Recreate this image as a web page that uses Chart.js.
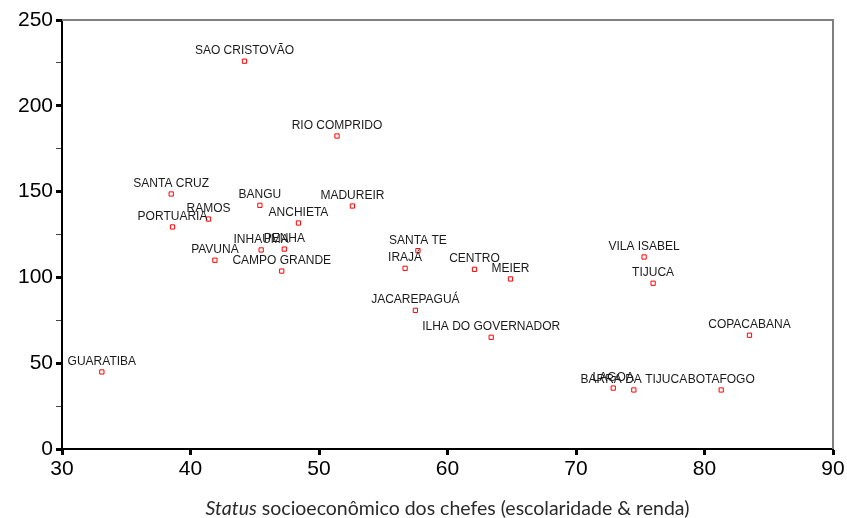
<!DOCTYPE html>
<html>
<head>
<meta charset="utf-8">
<script src="https://cdn.jsdelivr.net/npm/chart.js@4.4.0/dist/chart.umd.min.js"></script>
<style>
  html, body { margin: 0; padding: 0; background: #fff; }
  #wrap { width: 847px; height: 518px; }
</style>
</head>
<body>
<div id="wrap"><canvas id="myChart" width="847" height="518"></canvas></div>
<script>
// bairros do Rio de Janeiro
const names = [
  "SAO CRISTOVÃO", "RIO COMPRIDO", "SANTA CRUZ", "PORTUARIA", "RAMOS",
  "BANGU", "ANCHIETA", "MADUREIR", "INHAUMA", "PENHA",
  "PAVUNA", "CAMPO GRANDE", "SANTA TE", "IRAJÁ", "CENTRO",
  "MEIER", "JACAREPAGUÁ", "ILHA DO GOVERNADOR", "VILA ISABEL", "TIJUCA",
  "COPACABANA", "LAGOA", "BARRA DA TIJUCA", "BOTAFOGO", "GUARATIBA"
]
const statusValues = [
  44.2, 51.4, 38.5, 38.6, 41.4,
  45.4, 48.4, 52.6, 45.5, 47.3,
  41.9, 47.1, 57.7, 56.7, 62.1,
  64.9, 57.5, 63.4, 75.3, 76.0,
  83.5, 72.9, 74.5, 81.3, 33.1
]
const yValues = [
  226, 182.4, 148.6, 129.4, 134,
  142, 131.7, 141.6, 116, 116.5,
  110, 103.7, 115.6, 105.3, 104.7,
  99.1, 80.8, 65.1, 111.9, 96.6,
  66.3, 35.5, 34.4, 34.4, 44.9
]
const xTitleItalic = "Status"
const xTitleRest = " socioeconômico dos chefes (escolaridade & renda)"

const points = statusValues.map((x, i) => ({ x: x, y: yValues[i] }))

// gray frame on top/right of the plot
const frame = {
  id: 'frame',
  beforeDatasetsDraw(chart) {
    const { ctx, chartArea: a } = chart
    ctx.save()
    ctx.strokeStyle = '#808080'
    ctx.lineWidth = 2
    ctx.beginPath()
    ctx.moveTo(a.left, a.top)
    ctx.lineTo(a.right, a.top)
    ctx.lineTo(a.right, a.bottom)
    ctx.stroke()
    ctx.restore()
  }
}

// names over each point
const pointNames = {
  id: 'pointNames',
  afterDatasetsDraw(chart) {
    const ctx = chart.ctx
    const meta = chart.getDatasetMeta(0)
    ctx.save()
    ctx.font = '12px "Liberation Sans", Arial, sans-serif'
    ctx.fillStyle = '#1a1a1a'
    ctx.textAlign = 'center'
    ctx.textBaseline = 'alphabetic'
    meta.data.forEach((el, i) => {
      ctx.fillText(names[i], el.x, el.y - 7)
    })
    ctx.restore()
  }
}

// x title with italic "Status"
const xTitle = {
  id: 'xTitle',
  afterDraw(chart) {
    const ctx = chart.ctx
    const a = chart.chartArea
    ctx.save()
    ctx.fillStyle = '#2a2a2a'
    ctx.textBaseline = 'alphabetic'
    const it = 'italic 19.5px Lato, sans-serif'
    const nf = '19.5px Lato, sans-serif'
    ctx.font = it
    const w1 = ctx.measureText(xTitleItalic).width
    ctx.font = nf
    const w2 = ctx.measureText(xTitleRest).width
    let x0 = (a.left + a.right) / 2 - (w1 + w2) / 2
    const y0 = 515
    ctx.textAlign = 'left'
    ctx.font = it
    ctx.fillText(xTitleItalic, x0, y0)
    ctx.font = nf
    ctx.fillText(xTitleRest, x0 + w1, y0)
    ctx.restore()
  }
}

const data = {
  datasets: [
    {
      data: points,
      pointStyle: 'rect',
      pointRadius: 3,
      pointHoverRadius: 3,
      pointBorderWidth: 1,
      borderColor: '#ff0000',
      backgroundColor: '#ffffff',
      showLine: false
    }
  ]
}

const config = {
  type: 'scatter',
  data: data,
  plugins: [frame, pointNames, xTitle],
  options: {
    responsive: false,
    animation: false,
    layout: { padding: { top: 20, right: 14, left: 0, bottom: 0 } },
    plugins: {
      legend: { display: false },
      tooltip: { enabled: false }
    },
    scales: {
      x: {
        type: 'linear',
        min: 30,
        max: 90,
        afterFit: (s) => { s.height = 69 },
        ticks: {
          stepSize: 10,
          color: '#000',
          padding: 2,
          font: { family: '"Liberation Sans", Arial, sans-serif', size: 21 }
        },
        grid: {
          drawOnChartArea: false,
          tickLength: 6,
          tickWidth: 3,
          tickColor: '#000'
        },
        border: { color: '#000', width: 2 }
      },
      y: {
        min: 0,
        max: 250,
        afterFit: (s) => { s.width = 62 },
        ticks: {
          stepSize: 25,
          color: '#000',
          padding: 3,
          font: { family: '"Liberation Sans", Arial, sans-serif', size: 21 },
          callback: (v) => (v % 50 === 0 ? v : '')
        },
        grid: {
          drawOnChartArea: false,
          tickLength: 6,
          tickWidth: (c) => (c.tick && c.tick.value % 50 === 0 ? 3 : 1),
          tickColor: (c) => (c.tick && c.tick.value % 50 === 0 ? '#000' : '#444')
        },
        border: { color: '#000', width: 2 }
      }
    }
  }
}

const ctx = document.getElementById('myChart').getContext('2d')
const chart = new Chart(ctx, config)
</script>
</body>
</html>
